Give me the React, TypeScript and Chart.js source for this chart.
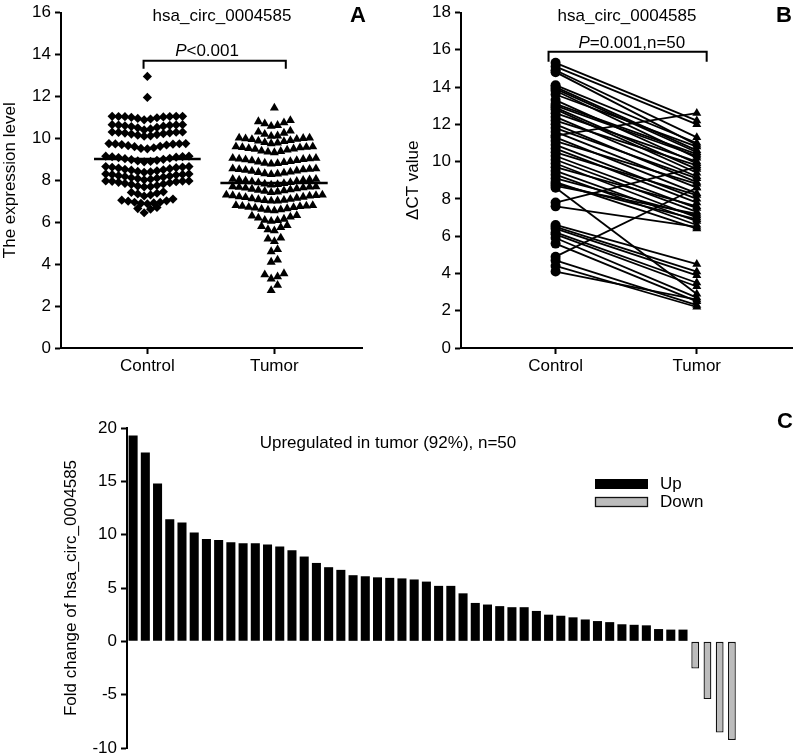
import React, { useEffect, useRef } from "react";
import { Chart, registerables } from "chart.js";
Chart.register(...registerables);

const FONT = "'Liberation Sans', Arial, Helvetica, sans-serif";

const groupLabels = ["Control", "Tumor"];
const geneName = "hsa_circ_0004585";

// Panel A: expression level (column scatter)
const controlExpression = [
  12.95, 11.95,
  11.05, 11.05, 11.04, 11.03, 11.0, 10.95, 10.88, 10.92, 10.98, 11.02, 11.04, 11.05,
  10.65, 10.65, 10.63, 10.6, 10.58, 10.52, 10.45, 10.4, 10.5, 10.56, 10.62, 10.64,
  10.3, 10.3, 10.28, 10.25, 10.22, 10.18, 10.12, 10.1, 10.15, 10.2, 10.26, 10.29,
  9.75, 9.75, 9.74, 9.72, 9.7, 9.65, 9.6, 9.52, 9.5, 9.55, 9.62, 9.68, 9.73,
  9.15, 9.15, 9.13, 9.1, 9.05, 9.0, 8.95, 8.9, 8.88, 8.92, 8.98, 9.03, 9.08, 9.12,
  8.65, 8.65, 8.62, 8.6, 8.55, 8.5, 8.45, 8.4, 8.38, 8.42, 8.48, 8.52, 8.58, 8.63,
  8.3, 8.3, 8.28, 8.25, 8.2, 8.15, 8.1, 8.05, 8.02, 8.08, 8.12, 8.18, 8.22, 8.27,
  7.97, 7.97, 7.95, 7.9, 7.85, 7.8, 7.72, 7.68, 7.7, 7.75, 7.82, 7.88, 7.93, 7.96,
  7.45, 7.42, 7.38, 7.35, 7.3, 7.25,
  7.1, 7.05, 7.0, 6.95, 6.92, 6.9, 6.88, 6.95, 7.02,
  6.7, 6.65, 6.62,
  6.45,
];
const tumorExpression = [
  11.45,
  10.85, 10.8, 10.75, 10.7, 10.62, 10.58,
  10.35, 10.3, 10.25, 10.2, 10.12, 10.1,
  10.02, 10.02, 10.0, 9.98, 9.95, 9.9, 9.85, 9.8, 9.75, 9.78, 9.88, 9.96,
  9.6, 9.6, 9.58, 9.55, 9.5, 9.45, 9.4, 9.35, 9.32, 9.38, 9.48, 9.52, 9.57,
  9.05, 9.05, 9.03, 9.0, 8.95, 8.9, 8.85, 8.8, 8.78, 8.82, 8.88, 8.93, 8.98, 9.02,
  8.55, 8.55, 8.52, 8.5, 8.45, 8.4, 8.35, 8.3, 8.28, 8.32, 8.38, 8.43, 8.48, 8.53,
  8.05, 8.05, 8.02, 8.0, 7.95, 7.9, 7.85, 7.8, 7.78, 7.82, 7.88, 7.93, 7.98, 8.03,
  7.7, 7.7, 7.68, 7.65, 7.6, 7.55, 7.5, 7.45, 7.42, 7.48, 7.53, 7.58, 7.63, 7.67,
  7.3, 7.3, 7.28, 7.25, 7.2, 7.15, 7.1, 7.05, 7.02, 7.01, 7.04, 7.08, 7.12, 7.18, 7.22, 7.27,
  6.8, 6.8, 6.78, 6.75, 6.72, 6.68, 6.62, 6.58, 6.55, 6.6, 6.65, 6.7, 6.76,
  6.32, 6.3, 6.25, 6.2, 6.15, 6.1, 6.08, 6.05,
  5.85, 5.8, 5.75, 5.65, 5.6,
  5.25, 5.2, 5.08,
  4.7, 4.6,
  4.2, 4.1,
  3.55, 3.5, 3.4, 3.3,
  3.0,
  2.75,
];

// Panel B: paired delta CT values
const pairedControlCT = [
  15.3, 15.1, 14.9, 14.8, 14.1, 14.0, 13.9, 13.8, 13.6, 13.3,
  13.1, 13.0, 12.9, 12.8, 12.6, 12.4, 12.2, 12.0, 11.8, 11.6,
  11.4, 11.3, 11.1, 10.9, 10.7, 10.5, 10.3, 10.1, 9.9, 9.7,
  9.5, 9.3, 9.1, 8.9, 8.8, 8.7, 8.6, 7.8, 7.6, 6.6,
  6.5, 6.4, 6.2, 6.1, 5.9, 5.6, 4.9, 4.7, 4.4, 4.1,
];
const pairedTumorCT = [
  12.2, 12.0, 11.3, 10.9, 11.0, 10.6, 10.5, 10.2, 10.8, 9.9,
  10.4, 10.3, 9.6, 9.4, 10.0, 9.2, 9.8, 8.9, 9.1, 8.6,
  12.6, 8.3, 8.8, 8.0, 7.8, 8.2, 7.5, 7.3, 7.0, 7.6,
  6.8, 6.6, 7.1, 6.4, 6.9, 7.2, 2.9, 9.7, 6.5, 4.5,
  4.1, 3.9, 3.5, 3.3, 2.7, 2.5, 8.6, 2.3, 2.2, 2.6,
];

// Panel C: fold change per patient
const foldChange = [
  19.3, 17.7, 14.8, 11.45, 11.15, 10.2, 9.6, 9.5, 9.3, 9.2,
  9.2, 9.07, 8.9, 8.55, 7.95, 7.35, 6.95, 6.7, 6.2, 6.1,
  6.0, 5.95, 5.9, 5.8, 5.6, 5.2, 5.2, 4.5, 3.6, 3.45,
  3.3, 3.2, 3.2, 2.85, 2.5, 2.4, 2.25, 2.05, 1.9, 1.8,
  1.6, 1.55, 1.5, 1.15, 1.1, 1.1, -2.55, -5.4, -8.55, -9.25,
];
const foldLegend = ["Up", "Down"];
const foldNote = "Upregulated in tumor (92%), n=50";

function swarm(values: number[], center: number, step: number, rowGap: number) {
  const sorted = [...values].sort((a, b) => b - a);
  const rows: number[][] = [];
  let cur: number[] = [];
  let top = Infinity;
  for (const v of sorted) {
    if (cur.length && v > top - rowGap) cur.push(v);
    else {
      if (cur.length) rows.push(cur);
      cur = [v];
      top = v;
    }
  }
  if (cur.length) rows.push(cur);
  const pts: { x: number; y: number }[] = [];
  for (const row of rows) {
    const asc = [...row].sort((a, b) => a - b);
    const n = asc.length;
    const slots: number[] = [];
    for (let i = 0; i < n; i++) slots.push(i - (n - 1) / 2);
    slots.sort((a, b) => Math.abs(a) - Math.abs(b) || a - b);
    asc.forEach((v, i) => pts.push({ x: center + slots[i] * step, y: v }));
  }
  return pts;
}

const mean = (a: number[]) => a.reduce((s, v) => s + v, 0) / a.length;

const axisGrid = {
  display: true,
  drawOnChartArea: false,
  drawTicks: true,
  tickLength: 6,
  tickWidth: 2,
  tickColor: "#000",
};
const axisBorder = { display: true, color: "#000", width: 2 };
const tickFont = { family: FONT, size: 17, lineHeight: 1 };
const titleFont = { family: FONT, size: 17 };

function drawMixed(ctx: CanvasRenderingContext2D, italic: string, rest: string, cx: number, by: number) {
  ctx.font = `italic 17px ${FONT}`;
  const w1 = ctx.measureText(italic).width;
  ctx.font = `17px ${FONT}`;
  const w2 = ctx.measureText(rest).width;
  const x0 = cx - (w1 + w2) / 2;
  ctx.textAlign = "left";
  ctx.textBaseline = "alphabetic";
  ctx.font = `italic 17px ${FONT}`;
  ctx.fillText(italic, x0, by);
  ctx.font = `17px ${FONT}`;
  ctx.fillText(rest, x0 + w1, by);
}

function bracket(ctx: CanvasRenderingContext2D, x1: number, x2: number, y: number, drop: number) {
  ctx.strokeStyle = "#000";
  ctx.lineWidth = 2;
  ctx.beginPath();
  ctx.moveTo(x1, y + drop);
  ctx.lineTo(x1, y);
  ctx.lineTo(x2, y);
  ctx.lineTo(x2, y + drop);
  ctx.stroke();
}

function PanelA() {
  const ref = useRef<HTMLCanvasElement>(null);
  useEffect(() => {
    const cm = mean(controlExpression);
    const tm = mean(tumorExpression);
    const chart = new Chart(ref.current!, {
      type: "scatter",
      data: {
        datasets: [
          {
            data: swarm(controlExpression, 1, 0.0504, 0.3),
            pointStyle: "rectRot",
            pointRadius: 4.6,
            backgroundColor: "#000",
            borderColor: "#000",
            borderWidth: 0,
          },
          {
            data: swarm(tumorExpression, 2, 0.0504, 0.3),
            pointStyle: "triangle",
            pointRadius: 5.2,
            backgroundColor: "#000",
            borderColor: "#000",
            borderWidth: 0,
          },
          {
            data: [{ x: 0.58, y: cm }, { x: 1.42, y: cm }],
            showLine: true,
            pointRadius: 0,
            borderColor: "#000",
            borderWidth: 2.5,
          },
          {
            data: [{ x: 1.575, y: tm }, { x: 2.42, y: tm }],
            showLine: true,
            pointRadius: 0,
            borderColor: "#000",
            borderWidth: 2.5,
          },
        ],
      } as any,
      options: {
        responsive: false,
        animation: false,
        events: [],
        layout: { padding: { top: 11, right: 38, left: 0, bottom: 0 } },
        plugins: { legend: { display: false }, tooltip: { enabled: false } },
        scales: {
          x: {
            type: "linear",
            min: 0.32,
            max: 2.69,
            afterBuildTicks: (s: any) => {
              s.ticks = [{ value: 1 }, { value: 2 }];
            },
            afterFit: (s: any) => {
              s.height = 32;
            },
            ticks: {
              callback: (v: any) => groupLabels[Math.round(v) - 1] ?? "",
              color: "#000",
              font: tickFont,
              padding: 4,
              autoSkip: false,
              maxRotation: 0,
            },
            grid: axisGrid,
            border: axisBorder,
          },
          y: {
            type: "linear",
            min: 0,
            max: 16,
            afterFit: (s: any) => {
              s.width = 61;
            },
            ticks: { stepSize: 2, color: "#000", font: tickFont, padding: 4 },
            grid: axisGrid,
            border: axisBorder,
            title: { display: true, text: "The expression level", color: "#000", font: titleFont, padding: 0 },
          },
        },
      } as any,
      plugins: [
        {
          id: "annA",
          afterDraw(c: any) {
            const ctx = c.ctx as CanvasRenderingContext2D;
            const xs = c.scales.x;
            const ys = c.scales.y;
            ctx.save();
            ctx.fillStyle = "#000";
            ctx.textAlign = "center";
            ctx.textBaseline = "middle";
            ctx.font = `17px ${FONT}`;
            ctx.fillText(geneName, 222, 16);
            ctx.font = `bold 22px ${FONT}`;
            ctx.fillText("A", 358, 16);
            const by = ys.getPixelForValue(13.7);
            bracket(ctx, xs.getPixelForValue(0.97), xs.getPixelForValue(2.09), by, 8);
            drawMixed(ctx, "P", "<0.001", xs.getPixelForValue(1.47), by - 5);
            ctx.restore();
          },
        },
      ],
    });
    return () => chart.destroy();
  }, []);
  return (
    <canvas
      ref={ref}
      width={400}
      height={380}
      style={{ position: "absolute", left: 0, top: 0, width: 400, height: 380 }}
    />
  );
}

function PanelB() {
  const ref = useRef<HTMLCanvasElement>(null);
  useEffect(() => {
    const datasets = pairedControlCT.map((c, i) => ({
      data: [
        { x: 1, y: c },
        { x: 2, y: pairedTumorCT[i] },
      ],
      showLine: true,
      borderColor: "#000",
      borderWidth: 1.8,
      pointStyle: ["circle", "triangle"],
      pointRadius: [5, 5.2],
      pointBackgroundColor: "#000",
      pointBorderColor: "#000",
      pointBorderWidth: 0,
    }));
    const chart = new Chart(ref.current!, {
      type: "scatter",
      data: { datasets } as any,
      options: {
        responsive: false,
        animation: false,
        events: [],
        layout: { padding: { top: 12, right: 1, left: 0, bottom: 0 } },
        plugins: { legend: { display: false }, tooltip: { enabled: false } },
        scales: {
          x: {
            type: "linear",
            min: 0.33,
            max: 2.68,
            afterBuildTicks: (s: any) => {
              s.ticks = [{ value: 1 }, { value: 2 }];
            },
            afterFit: (s: any) => {
              s.height = 32;
            },
            ticks: {
              callback: (v: any) => groupLabels[Math.round(v) - 1] ?? "",
              color: "#000",
              font: tickFont,
              padding: 4,
              autoSkip: false,
              maxRotation: 0,
            },
            grid: axisGrid,
            border: axisBorder,
          },
          y: {
            type: "linear",
            min: 0,
            max: 18,
            afterFit: (s: any) => {
              s.width = 61;
            },
            ticks: { stepSize: 2, color: "#000", font: tickFont, padding: 4 },
            grid: axisGrid,
            border: axisBorder,
            title: { display: true, text: "ΔCT value", color: "#000", font: titleFont, padding: { top: 3, bottom: 0 } },
          },
        },
      } as any,
      plugins: [
        {
          id: "annB",
          afterDraw(c: any) {
            const ctx = c.ctx as CanvasRenderingContext2D;
            const xs = c.scales.x;
            const ys = c.scales.y;
            ctx.save();
            ctx.fillStyle = "#000";
            ctx.textAlign = "center";
            ctx.textBaseline = "middle";
            ctx.font = `17px ${FONT}`;
            ctx.fillText(geneName, 227, 16);
            ctx.font = `bold 22px ${FONT}`;
            ctx.fillText("B", 384, 16);
            const by = ys.getPixelForValue(15.9);
            bracket(ctx, xs.getPixelForValue(0.95), xs.getPixelForValue(2.07), by, 10);
            drawMixed(ctx, "P", "=0.001,n=50", xs.getPixelForValue(1.54), by - 4);
            ctx.restore();
          },
        },
      ],
    });
    return () => chart.destroy();
  }, []);
  return (
    <canvas
      ref={ref}
      width={398}
      height={380}
      style={{ position: "absolute", left: 400, top: 0, width: 398, height: 380 }}
    />
  );
}

function PanelC() {
  const ref = useRef<HTMLCanvasElement>(null);
  useEffect(() => {
    const chart = new Chart(ref.current!, {
      type: "bar",
      data: {
        labels: foldChange.map((_, i) => String(i + 1)),
        datasets: [
          {
            label: foldLegend[0],
            data: foldChange.map((v) => (v >= 0 ? v : null)),
            backgroundColor: "#000",
            borderColor: "#000",
            borderWidth: 0,
            barPercentage: 0.74,
            categoryPercentage: 1,
            grouped: false,
          },
          {
            label: foldLegend[1],
            data: foldChange.map((v) => (v < 0 ? v : null)),
            backgroundColor: "#bcbcbc",
            borderColor: "#111",
            borderWidth: 1.3,
            borderSkipped: false,
            barPercentage: 0.64,
            categoryPercentage: 1,
            grouped: false,
          },
        ],
      } as any,
      options: {
        responsive: false,
        animation: false,
        events: [],
        layout: { padding: { top: 52, right: 60, left: 61, bottom: 18 } },
        plugins: { legend: { display: false }, tooltip: { enabled: false } },
        scales: {
          x: { type: "category", display: false, offset: true, grid: { display: false } },
          y: {
            type: "linear",
            min: -10,
            max: 20,
            afterFit: (s: any) => {
              s.width = 66;
            },
            ticks: { stepSize: 5, color: "#000", font: tickFont, padding: 4 },
            grid: axisGrid,
            border: axisBorder,
            title: {
              display: true,
              text: "Fold change of " + geneName,
              color: "#000",
              font: titleFont,
              padding: 0,
            },
          },
        },
      } as any,
      plugins: [
        {
          id: "annC",
          afterDraw(c: any) {
            const ctx = c.ctx as CanvasRenderingContext2D;
            ctx.save();
            ctx.fillStyle = "#000";
            ctx.textAlign = "center";
            ctx.textBaseline = "middle";
            ctx.font = `17px ${FONT}`;
            ctx.fillText(foldNote, 388, 67);
            ctx.font = `bold 22px ${FONT}`;
            ctx.fillText("C", 785, 46);
            // legend
            c.data.datasets.forEach((ds: any, i: number) => {
              const y = 103 + i * 18;
              ctx.fillStyle = ds.backgroundColor;
              ctx.fillRect(595, y, 53, 10);
              if (ds.borderWidth) {
                ctx.strokeStyle = ds.borderColor;
                ctx.lineWidth = 1.3;
                ctx.strokeRect(595.5, y + 0.5, 52, 9);
              }
              ctx.fillStyle = "#000";
              ctx.textAlign = "left";
              ctx.font = `17px ${FONT}`;
              ctx.fillText(ds.label, 660, y + 5);
            });
            ctx.restore();
          },
        },
      ],
    });
    return () => chart.destroy();
  }, []);
  return (
    <canvas
      ref={ref}
      width={798}
      height={390}
      style={{ position: "absolute", left: 0, top: 376, width: 798, height: 390 }}
    />
  );
}

export default function App() {
  return (
    <div
      style={{
        position: "absolute",
        left: 0,
        top: 0,
        width: 798,
        height: 756,
        overflow: "hidden",
        background: "#fff",
      }}
    >
      <PanelC />
      <PanelA />
      <PanelB />
    </div>
  );
}
